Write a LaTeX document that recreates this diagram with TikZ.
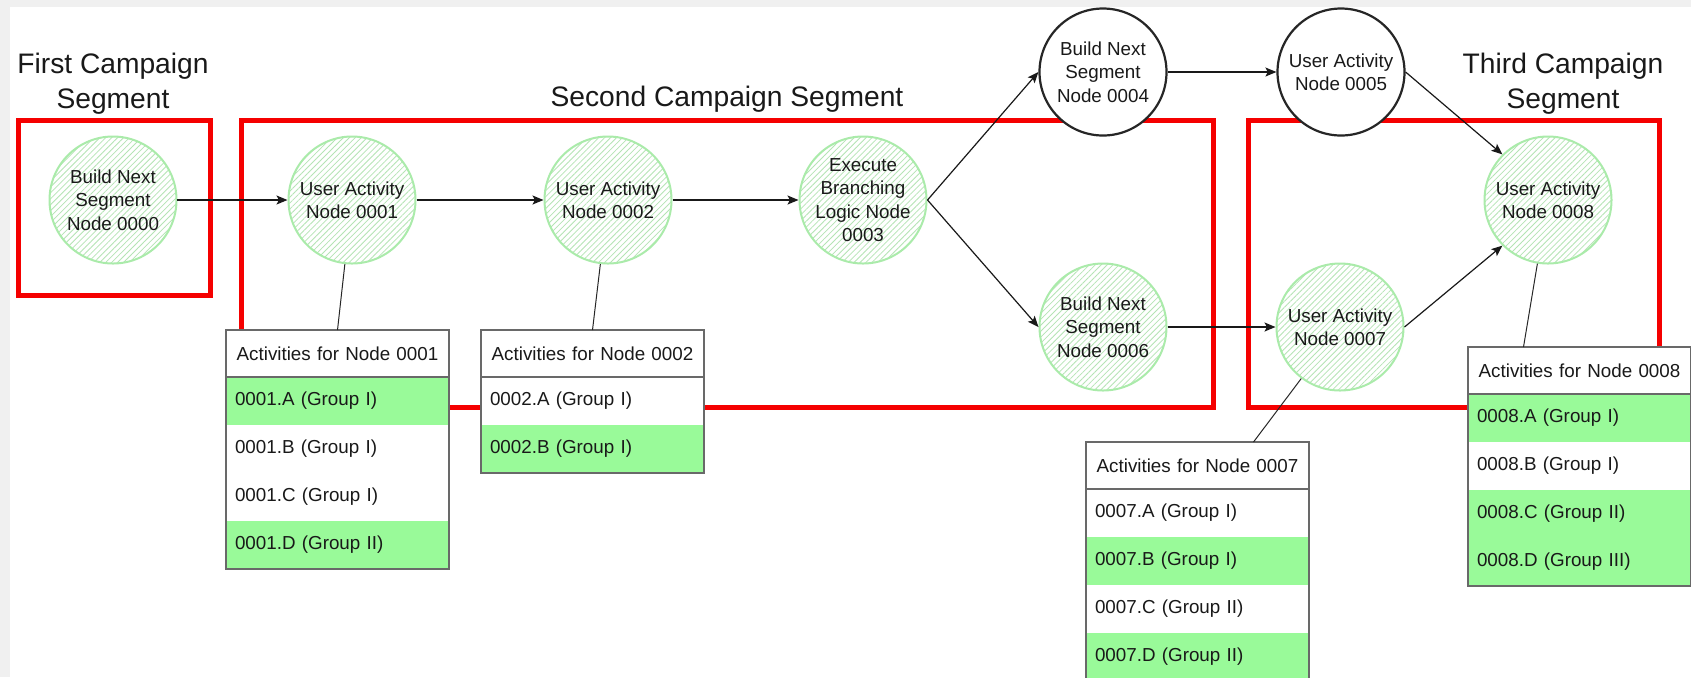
\documentclass[tikz,border=0pt]{standalone}
\usepackage{fontspec}
\setmainfont{Liberation Sans}
\usetikzlibrary{arrows.meta, positioning, patterns.meta}

\definecolor{pagegray}{RGB}{240,240,240}
\definecolor{segred}{RGB}{245,0,0}
\definecolor{nodegreen}{RGB}{170,235,170}
\definecolor{hatchgreen}{RGB}{180,228,180}
\definecolor{actgreen}{RGB}{153,250,153}
\definecolor{tabgray}{RGB}{105,105,105}

\newcommand{\diafont}{\fontsize{9.4}{11.7}\selectfont}
\newcommand{\segfont}{\fontsize{14.1}{17.5}\selectfont}

\tikzset{
  segbox/.style={draw=segred, line width=2.5pt},
  segtitle/.style={align=center, font=\segfont, text=black!90},
  actnode/.style={circle, draw=nodegreen, line width=1pt, minimum size=63.5pt, inner sep=0pt,
    align=center, font=\diafont, text=black!90,
    pattern={Lines[angle=45, distance=2.1pt, line width=0.4pt]}, pattern color=hatchgreen},
  sketchnode/.style={circle, draw=black!85, line width=1.1pt, fill=white, minimum size=63.5pt,
    inner sep=0pt, align=center, font=\diafont, text=black!90},
  flow/.style={-{Stealth[length=5.5pt, width=4.5pt, inset=1.2pt]}, line width=0.6pt, black!90},
  link/.style={line width=0.5pt, black!85},
  acthead/.style={rectangle, fill=white, minimum height=23.5pt, text width=102.5pt,
    inner xsep=4.5pt, inner ysep=0pt, outer sep=0pt, align=center, font=\diafont, text=black!90},
  actrow/.style={rectangle, fill=white, minimum height=24pt, text width=102.5pt,
    inner xsep=4.5pt, inner ysep=0pt, outer sep=0pt, align=left, font=\diafont, text=black!90},
  tabline/.style={draw=tabgray, line width=0.6pt}
}

\begin{document}
\begin{tikzpicture}[x=0.5pt, y=-0.5pt]
\useasboundingbox (0,0) rectangle (1691,677);
% Page background
\fill[pagegray] (0,0) rectangle (1691,677);
\fill[white] (10,7) rectangle (1691,677);

% Draw campaign segment boxes
\draw[segbox] (18,120) rectangle (210,295);
\draw[segbox] (241,120) rectangle (1213,407);
\draw[segbox] (1248,120) rectangle (1659,407);

% Segment titles
\node[segtitle] (title1) at (113,84) {First Campaign\\Segment};
\node[segtitle] (title2) at (727,99) {Second Campaign Segment};
\node[segtitle] (title3) at (1563,84) {Third Campaign\\Segment};

% Campaign nodes
\node[actnode] (n0000) at (113,200) {Build Next\\Segment\\Node 0000};
\node[actnode] (n0001) at (352,200) {User Activity\\Node 0001};
\node[actnode] (n0002) at (608,200) {User Activity\\Node 0002};
\node[actnode] (n0003) at (863,200) {Execute\\Branching\\Logic Node\\0003};
\node[sketchnode] (n0004) at (1103,72) {Build Next\\Segment\\Node 0004};
\node[sketchnode] (n0005) at (1341,72) {User Activity\\Node 0005};
\node[actnode] (n0006) at (1103,327) {Build Next\\Segment\\Node 0006};
\node[actnode] (n0007) at (1340,327) {User Activity\\Node 0007};
\node[actnode] (n0008) at (1548,200) {User Activity\\Node 0008};

% Draw flow between nodes
\draw[flow] (n0000) -- (n0001);
\draw[flow] (n0001) -- (n0002);
\draw[flow] (n0002) -- (n0003);
\draw[flow] (n0003.east) -- (n0004.west);
\draw[flow] (n0003.east) -- (n0006.west);
\draw[flow] (n0004) -- (n0005);
\draw[flow] (n0006) -- (n0007);
\draw[flow] (n0005.east) -- (n0008.north west);
\draw[flow] (n0007.east) -- (n0008.south west);

% Activities for node 0001
\node[acthead, anchor=north west] (h0001) at (226,330) {Activities for Node 0001};
\node[actrow, fill=actgreen, below=0pt of h0001] (r0001a) {0001.A (Group I)};
\node[actrow, below=0pt of r0001a] (r0001b) {0001.B (Group I)};
\node[actrow, below=0pt of r0001b] (r0001c) {0001.C (Group I)};
\node[actrow, fill=actgreen, below=0pt of r0001c] (r0001d) {0001.D (Group II)};
\draw[tabline] (h0001.north west) rectangle (r0001d.south east);
\draw[tabline] (h0001.south west) -- (h0001.south east);
\draw[link] (n0001) -- (h0001.north);

% Activities for node 0002
\node[acthead, anchor=north west] (h0002) at (481,330) {Activities for Node 0002};
\node[actrow, below=0pt of h0002] (r0002a) {0002.A (Group I)};
\node[actrow, fill=actgreen, below=0pt of r0002a] (r0002b) {0002.B (Group I)};
\draw[tabline] (h0002.north west) rectangle (r0002b.south east);
\draw[tabline] (h0002.south west) -- (h0002.south east);
\draw[link] (n0002) -- (h0002.north);

% Activities for node 0007
\node[acthead, anchor=north west] (h0007) at (1086,442) {Activities for Node 0007};
\node[actrow, below=0pt of h0007] (r0007a) {0007.A (Group I)};
\node[actrow, fill=actgreen, below=0pt of r0007a] (r0007b) {0007.B (Group I)};
\node[actrow, below=0pt of r0007b] (r0007c) {0007.C (Group II)};
\node[actrow, fill=actgreen, below=0pt of r0007c] (r0007d) {0007.D (Group II)};
\draw[tabline] (h0007.north west) rectangle (r0007d.south east);
\draw[tabline] (h0007.south west) -- (h0007.south east);
\draw[link] (n0007) -- ([xshift=28pt]h0007.north);

% Activities for node 0008
\node[acthead, anchor=north west] (h0008) at (1468,347) {Activities for Node 0008};
\node[actrow, fill=actgreen, below=0pt of h0008] (r0008a) {0008.A (Group I)};
\node[actrow, below=0pt of r0008a] (r0008b) {0008.B (Group I)};
\node[actrow, fill=actgreen, below=0pt of r0008b] (r0008c) {0008.C (Group II)};
\node[actrow, fill=actgreen, below=0pt of r0008c] (r0008d) {0008.D (Group III)};
\draw[tabline] (h0008.north west) rectangle (r0008d.south east);
\draw[tabline] (h0008.south west) -- (h0008.south east);
\draw[link] (n0008) -- ([xshift=-28pt]h0008.north);
\end{tikzpicture}
\end{document}
